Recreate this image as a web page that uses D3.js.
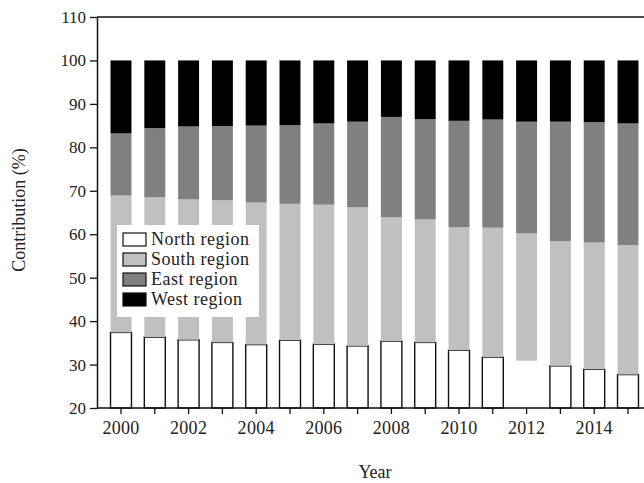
<!DOCTYPE html>
<html><head><meta charset="utf-8">
<script src="https://cdn.jsdelivr.net/npm/d3@7"></script>
<style>
html,body{margin:0;padding:0;background:#fff;overflow:hidden}
text{font-family:"Liberation Serif","Times New Roman",serif;fill:#222}
</style></head>
<body><svg id="chart" width="644" height="483"></svg>
<script>
const years = [2000,2001,2002,2003,2004,2005,2006,2007,2008,2009,2010,2011,2012,2013,2014,2015];
const north = [37.4,36.3,35.7,35.1,34.6,35.6,34.7,34.3,35.4,35.1,33.3,31.7,30.9,29.7,28.9,27.7];
const south = [31.5,32.2,32.3,32.7,32.7,31.4,32.1,31.9,28.5,28.3,28.3,29.8,29.3,28.7,29.2,29.8];
const east  = [14.3,15.9,16.8,17.1,17.7,18.1,18.7,19.7,23.1,23.1,24.5,24.9,25.7,27.5,27.7,28.0];
const west  = [16.8,15.6,15.2,15.1,15.0,14.9,14.5,14.1,13.0,13.5,13.9,13.6,14.1,14.1,14.2,14.5];
const northNotDrawn = [2012];
const seriesNames = ["North region","South region","East region","West region"];
const seriesKeys = ["north","south","east","west"];
const seriesColors = ["#ffffff","#c0c0c0","#808080","#000000"];
const yTicks = [20,30,40,50,60,70,80,90,100,110];
const xLabelYears = [2000,2002,2004,2006,2008,2010,2012,2014];

const svg = d3.select("#chart");
const W = 644;
const table = years.map((yr,i)=>({year:yr, north:north[i], south:south[i], east:east[i], west:west[i]}));

const x = d3.scaleBand().domain(years).range([97, 652]).paddingInner(0.38).paddingOuter(0.40);
const y = d3.scaleLinear().domain([20,110]).range([408,17]).clamp(true);

const stack = d3.stack().keys(seriesKeys)(table);
const color = d3.scaleOrdinal().domain(seriesKeys).range(seriesColors);

const layers = svg.append("g").selectAll("g").data(stack).join("g")
  .attr("fill", d=>color(d.key));
layers.each(function(layer){
  const g = d3.select(this);
  const pts = layer.key==="north" ? layer.filter(p=>!northNotDrawn.includes(p.data.year)) : layer;
  g.selectAll("rect").data(pts).join("rect")
    .attr("x", d=>x(d.data.year))
    .attr("width", x.bandwidth())
    .attr("y", d=>y(d[1]))
    .attr("height", d=>y(d[0])-y(d[1]))
    .attr("stroke", layer.key==="north" ? "#111" : "none")
    .attr("stroke-width", layer.key==="north" ? 1.4 : 0);
});

// top frame line
svg.append("line").attr("x1", 97).attr("x2", W).attr("y1", y(110)).attr("y2", y(110))
  .attr("stroke","#111").attr("stroke-width",1.5);

// y axis
const yAxis = svg.append("g").attr("transform","translate(97,0)")
  .call(d3.axisLeft(y).tickValues(yTicks).tickSize(7).tickSizeOuter(0).tickPadding(4));
yAxis.select(".domain").attr("stroke","#111").attr("stroke-width",1.5);
yAxis.selectAll(".tick line").attr("stroke","#111").attr("stroke-width",1.3);
yAxis.selectAll("text").style("font-size","17px").style("fill","#222");

// x axis
const xAxis = svg.append("g").attr("transform","translate(0,408)")
  .call(d3.axisBottom(x).tickSize(6).tickSizeOuter(0).tickPadding(7)
    .tickFormat(d=>xLabelYears.includes(d) ? String(d) : ""));
xAxis.select(".domain").remove();
xAxis.append("line").attr("x1",97).attr("x2",W).attr("y1",0).attr("y2",0)
  .attr("stroke","#111").attr("stroke-width",1.5);
xAxis.selectAll(".tick line").attr("stroke","#111").attr("stroke-width",1.3);
xAxis.selectAll("text").style("font-size","18px").style("fill","#222").style("letter-spacing","0.3px");

// axis titles
svg.append("text").attr("x",375).attr("y",478).attr("text-anchor","middle")
  .style("font-size","18px").text("Year");
svg.append("text").attr("transform","translate(25,210) rotate(-90)").attr("text-anchor","middle")
  .style("font-size","18px").text("Contribution (%)");

// legend
const lg = svg.append("g").attr("transform","translate(117,225)");
lg.append("rect").attr("width",142).attr("height",92).attr("fill","#fff");
const items = lg.selectAll("g.item").data(seriesKeys).join("g").attr("class","item")
  .attr("transform",(d,i)=>`translate(6,${8+i*20})`);
items.append("rect").attr("width",23).attr("height",13)
  .attr("fill",d=>color(d)).attr("stroke","#111").attr("stroke-width",1.2);
items.append("text").attr("x",28).attr("y",12).style("font-size","18px").style("letter-spacing","0.5px")
  .text((d,i)=>seriesNames[i]);
</script></body></html>
